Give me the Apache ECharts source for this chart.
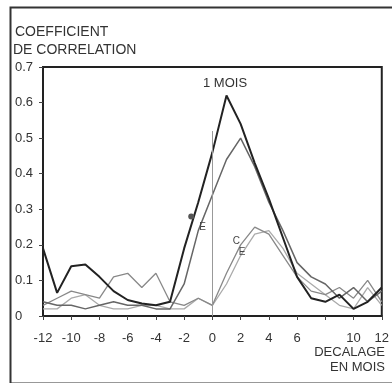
<!DOCTYPE html>
<html><head><meta charset="utf-8">
<script src="https://cdn.jsdelivr.net/npm/echarts@6/dist/echarts.min.js"></script>
<style>html,body{margin:0;padding:0;background:#fff}#c{width:392px;height:383px}</style>
</head><body><div id="c"></div>
<script>
const months = [-12,-11,-10,-9,-8,-7,-6,-5,-4,-3,-2,-1,0,1,2,3,4,5,6,7,8,9,10,11,12];
const serieA = [0.19,0.065,0.14,0.145,0.11,0.07,0.045,0.035,0.03,0.04,0.19,0.32,0.46,0.62,0.54,0.43,0.33,0.22,0.11,0.05,0.04,0.06,0.02,0.04,0.08];
const serieB = [0.04,0.03,0.03,0.02,0.03,0.04,0.03,0.03,0.02,0.02,0.09,0.24,0.34,0.44,0.50,0.42,0.32,0.24,0.15,0.11,0.09,0.05,0.08,0.04,0.07];
const serieC = [0.03,0.05,0.07,0.06,0.05,0.11,0.12,0.08,0.12,0.04,0.03,0.05,0.03,0.12,0.20,0.25,0.23,0.17,0.11,0.07,0.06,0.08,0.05,0.10,0.04];
const serieD = [0.02,0.02,0.05,0.06,0.03,0.02,0.02,0.03,0.03,0.02,0.02,0.05,0.03,0.09,0.17,0.23,0.24,0.19,0.12,0.09,0.06,0.03,0.02,0.08,0.03];
const xTicks = [-12,-10,-8,-6,-4,-2,0,2,4,6,10,12];
const yTitle = ['COEFFICIENT','DE CORRELATION'];
const xTitle = ['DECALAGE','EN MOIS'];
const peakLabel = '1 MOIS';
const lineNotes = [{coord:[-0.7,0.25],text:'E'},{coord:[1.7,0.21],text:'C'},{coord:[2.1,0.18],text:'E'}];
const circlePt = [-1.5,0.28];

const pairs = arr => months.map((m,i)=>[m,arr[i]]);
const font = '"Liberation Sans", Arial, sans-serif';
const chart = echarts.init(document.getElementById('c'));
chart.setOption({
  animation:false,
  backgroundColor:'#fff',
  grid:{left:43,right:7,top:67,bottom:67,show:true,borderColor:'#222',borderWidth:2},
  xAxis:{type:'value',min:-12,max:12,interval:2,
    axisLine:{onZero:false,lineStyle:{color:'#222',width:2}},
    axisTick:{show:true,length:4,lineStyle:{color:'#444'}},
    splitLine:{show:false},
    axisLabel:{color:'#333',fontFamily:font,fontSize:13,margin:16,
      formatter:v=>xTicks.includes(v)?String(v):''}},
  yAxis:{type:'value',min:0,max:0.7,interval:0.1,
    axisLine:{show:true,onZero:false,lineStyle:{color:'#222',width:2}},
    axisTick:{show:true,length:4,lineStyle:{color:'#444'}},
    splitLine:{show:false},
    axisLabel:{color:'#333',fontFamily:font,fontSize:13,margin:28,align:'left',
      formatter:v=>v===0?'0':v.toFixed(1)}},
  series:[
    {type:'line',data:pairs(serieD),symbol:'none',lineStyle:{color:'#aaa',width:1.3}},
    {type:'line',data:pairs(serieC),symbol:'none',lineStyle:{color:'#888',width:1.3}},
    {type:'line',data:pairs(serieB),symbol:'none',lineStyle:{color:'#666',width:1.5},
      markPoint:{symbol:'circle',symbolSize:0,silent:true,
        label:{show:true,color:'#444',fontFamily:font,fontSize:10,formatter:p=>p.name},
        data:lineNotes.map(n=>({coord:n.coord,name:n.text}))}},
    {type:'line',data:pairs(serieA),symbol:'none',lineStyle:{color:'#222',width:2},
      markPoint:{symbol:'circle',symbolSize:6,silent:true,itemStyle:{color:'#555'},label:{show:false},
        data:[{coord:circlePt}]},
      markLine:{symbol:'none',silent:true,label:{show:false},lineStyle:{color:'#999',width:1,type:'solid'},
        data:[[{coord:[0,0]},{coord:[0,0.52]}]]}}
  ],
  graphic:[
    {type:'rect',left:8,top:5,shape:{width:400,height:376},style:{fill:null,stroke:'#333',lineWidth:2},silent:true},
    {type:'text',left:15,top:25,style:{text:yTitle[0],fill:'#333',font:'14px '+font}},
    {type:'text',left:13,top:43,style:{text:yTitle[1],fill:'#333',font:'14px '+font}},
    {type:'text',left:203,top:77,style:{text:peakLabel,fill:'#333',font:'13px '+font}},
    {type:'text',right:7,top:346,style:{text:xTitle[0],fill:'#333',font:'13px '+font}},
    {type:'text',right:7,top:361,style:{text:xTitle[1],fill:'#333',font:'13px '+font}}
  ]
});
</script></body></html>
